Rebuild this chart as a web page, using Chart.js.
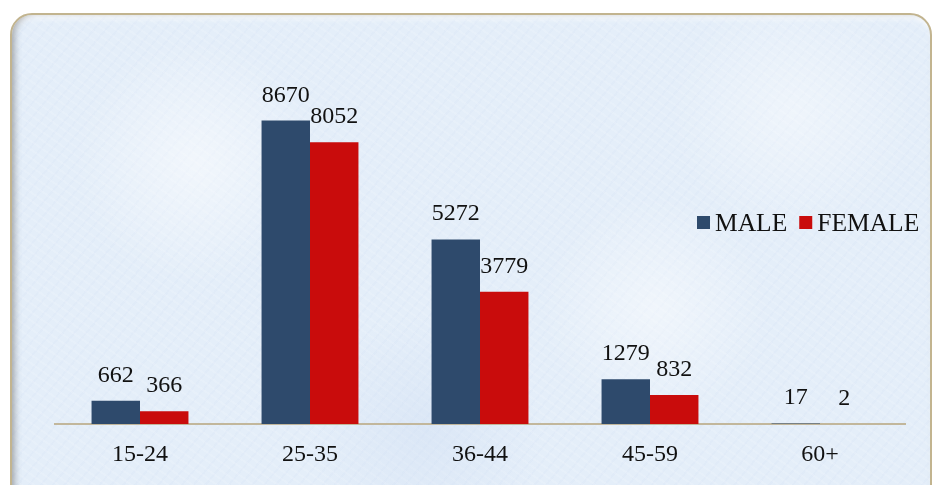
<!DOCTYPE html>
<html>
<head>
<meta charset="utf-8">
<script src="https://cdn.jsdelivr.net/npm/chart.js@4.4.1/dist/chart.umd.min.js"></script>
<style>
  html, body { margin: 0; padding: 0; background: #fff; }
  #wrap { position: relative; width: 935px; height: 485px; overflow: hidden; }
  #frame {
    position: absolute; left: 10px; top: 13px; width: 918px; height: 490px;
    border: 2px solid #c2b48f; border-radius: 22px 22px 0 0;
    background-color: #e4eef9;
    background-image:
      radial-gradient(circle at 20% 30%, rgba(255,255,255,0.5) 0, rgba(255,255,255,0) 15%),
      radial-gradient(circle at 70% 60%, rgba(255,255,255,0.45) 0, rgba(255,255,255,0) 16%),
      radial-gradient(circle at 85% 20%, rgba(255,255,255,0.4) 0, rgba(255,255,255,0) 14%),
      radial-gradient(circle at 45% 85%, rgba(205,220,242,0.4) 0, rgba(205,220,242,0) 18%),
      repeating-linear-gradient(35deg, rgba(255,255,255,0.12) 0 2px, rgba(255,255,255,0) 2px 7px),
      repeating-linear-gradient(-50deg, rgba(200,215,240,0.12) 0 2px, rgba(200,215,240,0) 2px 9px);
    box-shadow: inset 5px 0 6px -2px rgba(90,90,90,0.45), inset 0 -14px 10px -8px rgba(80,80,80,0.5), inset 0 6px 6px -3px rgba(255,255,255,0.9);
  }
  canvas { position: absolute; left: 0; top: 0; }
</style>
</head>
<body>
<div id="wrap">
  <div id="frame"></div>
  <canvas id="grafico" width="935" height="485"></canvas>
</div>
<script>
// dati
const categorie = ['15-24', '25-35', '36-44', '45-59', '60+'];
const maschi = [662, 8670, 5272, 1279, 17];
const femmine = [366, 8052, 3779, 832, 2];
const nomiSerie = ['MALE', 'FEMALE'];

const coloreMaschi = '#2e4a6c';
const coloreFemmine = '#c90c0c';
const font = '"Liberation Serif", "Times New Roman", serif';

// etichette sopra le barre
const etichettePlugin = {
  id: 'etichette',
  afterDatasetsDraw(chart) {
    const { ctx } = chart;
    ctx.save();
    ctx.font = '24px ' + font;
    ctx.fillStyle = '#111';
    ctx.textAlign = 'center';
    ctx.textBaseline = 'alphabetic';
    chart.data.datasets.forEach((ds, i) => {
      chart.getDatasetMeta(i).data.forEach((bar, j) => {
        ctx.fillText(ds.data[j], bar.x, bar.y - 19);
      });
    });
    ctx.restore();
  }
};

// legenda a destra, disegnata a mano
const legendaPlugin = {
  id: 'legenda',
  afterDraw(chart) {
    const { ctx } = chart;
    ctx.save();
    ctx.font = '25.5px ' + font;
    ctx.textBaseline = 'middle';
    let x = 697;
    const y = 223;
    chart.data.datasets.forEach((ds) => {
      ctx.fillStyle = ds.backgroundColor;
      ctx.fillRect(x, y - 7, 13, 13);
      ctx.fillStyle = '#111';
      ctx.textAlign = 'left';
      ctx.fillText(ds.label, x + 18, y + 1);
      x += 18 + ctx.measureText(ds.label).width + 12;
    });
    ctx.restore();
  }
};

new Chart('grafico', {
  type: 'bar',
  data: {
    labels: categorie,
    datasets: [
      { label: nomiSerie[0], data: maschi, backgroundColor: coloreMaschi },
      { label: nomiSerie[1], data: femmine, backgroundColor: coloreFemmine }
    ]
  },
  options: {
    responsive: false,
    animation: false,
    layout: { padding: { left: 55, right: 30, top: 74, bottom: 0 } },
    datasets: { bar: { categoryPercentage: 0.57, barPercentage: 1 } },
    plugins: { legend: { display: false }, tooltip: { enabled: false } },
    scales: {
      x: {
        grid: { display: false, drawTicks: false },
        border: { display: true, color: '#c2b79c', width: 2 },
        ticks: { color: '#111', font: { family: font, size: 24 }, padding: 16 },
        afterFit(scale) { scale.height = 61; }
      },
      y: {
        display: false,
        min: 0,
        max: 10000
      }
    }
  },
  plugins: [etichettePlugin, legendaPlugin]
});
</script>
</body>
</html>
